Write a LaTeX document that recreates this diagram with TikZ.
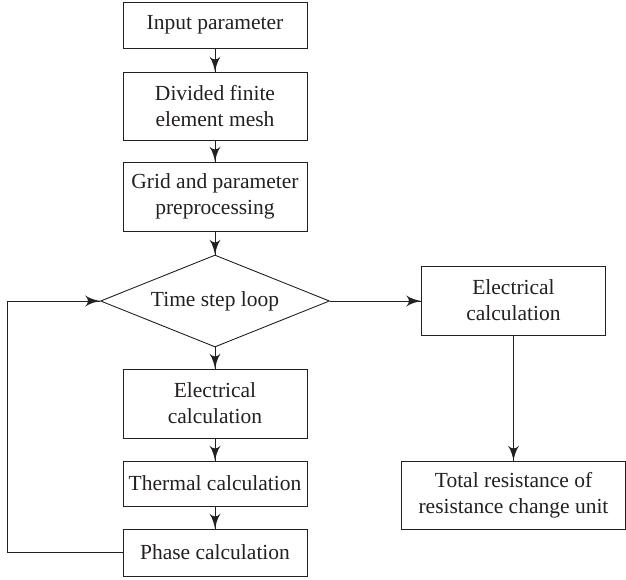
\documentclass[tikz,border=0pt]{standalone}
\usepackage{fontspec}
\setmainfont{Liberation Serif}
\usepackage{tikz}
\usetikzlibrary{arrows}
\usetikzlibrary{decorations.markings}
\usetikzlibrary{shapes.geometric}
\tikzset{arr/.style = {decoration={markings,
                                   mark=at position 1 with {\arrow[scale=2.7]{latex'}}},
                       postaction={decorate}}}
\tikzset{blk/.style = {draw, line width=0.9pt, minimum width=184pt, align=center,
                       inner sep=0pt, font=\fontsize{21.5}{26}\selectfont}}
\tikzset{dec/.style = {draw, diamond, aspect=2.49, line width=0.9pt, minimum width=229pt,
                       minimum height=92pt, inner sep=0pt, font=\fontsize{21.5}{26}\selectfont}}
\definecolor{mline}{rgb}{0.14, 0.12, 0.13}

\begin{document}
\begin{tikzpicture}[x=1pt, y=-1pt, color=mline, line width=0.9pt]
      \useasboundingbox (0, 0) rectangle (626, 579);

      \node [blk, minimum height=46pt] (input) at (215, 25) {Input parameter};
      \node [blk, minimum height=68pt] (mesh) at (215, 106) {Divided finite\\element mesh};
      \node [blk, minimum height=69pt] (prep) at (215, 196.5) {Grid and parameter\\preprocessing};
      \node [dec] (loop) at (215, 301) {Time step loop};
      \node [blk, minimum height=69pt] (elecl) at (215, 403.5) {Electrical\\calculation};
      \node [blk, minimum height=45pt] (therm) at (215, 483.5) {Thermal calculation};
      \node [blk, minimum height=47pt] (phase) at (215, 552.5) {Phase calculation};

      \node [blk, minimum height=69pt] (elecr) at (513.5, 300.5) {Electrical\\calculation};
      \node [blk, minimum height=68pt, minimum width=224pt] (total) at (513.5, 495)
            {Total resistance of\\resistance change unit};

      \draw [arr] (input) -- (mesh);
      \draw [arr] (mesh) -- (prep);
      \draw [arr] (prep) -- (loop);
      \draw [arr] (loop) -- (elecl);
      \draw [arr] (elecl) -- (therm);
      \draw [arr] (therm) -- (phase);

      \draw [arr] (loop.east) -- (loop.east -| elecr.west);
      \draw [arr] (elecr) -- (total);

      \draw [arr] (phase.west) -- ++(-115.5, 0) |- (loop.west);
    \end{tikzpicture}
\end{document}
